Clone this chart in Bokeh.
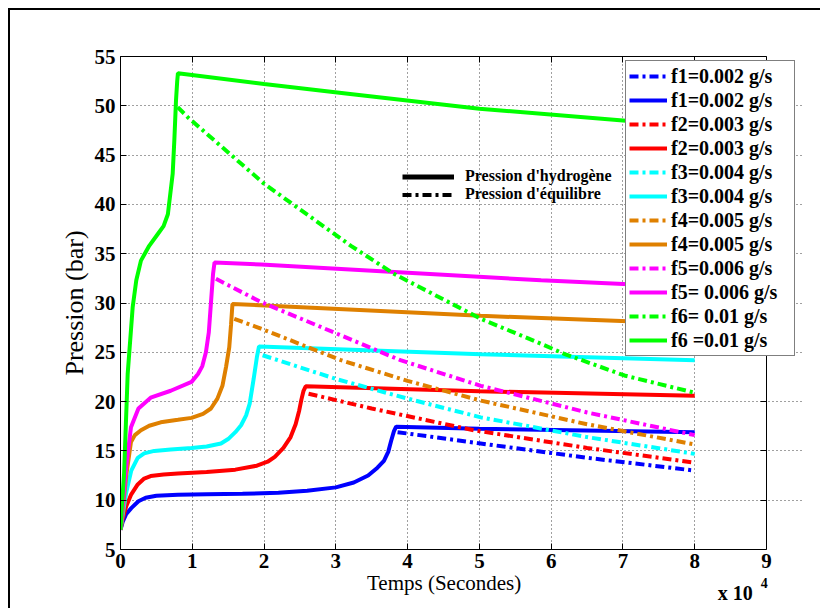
from bokeh.plotting import figure
from bokeh.models import (Legend, LegendItem, LinearAxis, Label, ColumnDataSource,
                          FixedTicker, Range1d)
from bokeh.embed import file_html
from bokeh.resources import INLINE

# ---------------- data (time in units of 1e4 s, pressure in bar) ----------------
x_ticks = [0, 1, 2, 3, 4, 5, 6, 7, 8, 9]
y_ticks = [5, 10, 15, 20, 25, 30, 35, 40, 45, 50, 55]

labels_eq = ["f1=0.002 g/s", "f2=0.003 g/s", "f3=0.004 g/s", "f4=0.005 g/s",
             "f5=0.006 g/s", "f6= 0.01 g/s"]
labels_h = ["f1=0.002 g/s", "f2=0.003 g/s", "f3=0.004 g/s", "f4=0.005 g/s",
            "f5= 0.006 g/s", "f6 =0.01 g/s"]
colors = ["#0000FF", "#FF0000", "#00FFFF", "#DF8000", "#FF00FF", "#00FF00"]

# hydrogen pressure (solid)
t_f1_h = [0, 0.03, 0.08, 0.15, 0.25, 0.35, 0.5, 0.8, 1.2, 1.7, 2.2, 2.6, 3.0, 3.25, 3.45,
          3.58, 3.67, 3.73, 3.77, 3.81, 3.84, 5.0, 8.0]
p_f1_h = [7.0, 7.8, 8.6, 9.2, 9.9, 10.25, 10.45, 10.55, 10.6, 10.65, 10.75, 10.95, 11.3,
          11.8, 12.5, 13.3, 14.0, 14.9, 16.0, 17.0, 17.45, 17.25, 16.9]
t_f2_h = [0, 0.03, 0.08, 0.15, 0.24, 0.33, 0.42, 0.6, 0.8, 1.2, 1.6, 1.9, 2.05, 2.15, 2.27,
          2.37, 2.44, 2.49, 2.52, 2.55, 2.58, 5.0, 8.0]
p_f2_h = [7.0, 8.1, 9.4, 10.6, 11.6, 12.2, 12.45, 12.6, 12.7, 12.85, 13.1, 13.5, 13.9,
          14.4, 15.3, 16.4, 17.7, 19.1, 20.2, 21.1, 21.55, 21.05, 20.6]
t_f3_h = [0, 0.03, 0.08, 0.15, 0.24, 0.33, 0.47, 0.7, 0.99, 1.2, 1.4, 1.5, 1.6, 1.68, 1.75,
          1.8, 1.855, 1.9, 1.93, 5.02, 8.0]
p_f3_h = [7.0, 8.5, 10.8, 13.0, 14.3, 14.75, 15.0, 15.15, 15.3, 15.45, 15.75, 16.2, 16.9,
          17.6, 18.6, 19.8, 22.3, 24.5, 25.6, 24.8, 24.2]
t_f4_h = [0, 0.03, 0.08, 0.146, 0.2, 0.285, 0.4, 0.56, 0.8, 0.99, 1.15, 1.26, 1.35, 1.42,
          1.47, 1.515, 1.54, 1.56, 5.02, 8.0]
p_f4_h = [7.0, 9.0, 12.5, 15.9, 16.6, 17.1, 17.55, 17.9, 18.15, 18.35, 18.75, 19.3, 20.3,
          21.6, 23.5, 25.5, 27.8, 29.9, 28.7, 27.9]
t_f5_h = [0, 0.03, 0.08, 0.146, 0.25, 0.42, 0.7, 0.99, 1.08, 1.14, 1.19, 1.23, 1.26, 1.29,
          1.31, 1.96, 5.86, 8.0]
p_f5_h = [7.0, 9.5, 13.5, 17.4, 19.3, 20.4, 21.1, 22.0, 22.8, 23.6, 25.0, 27.0, 30.0, 33.0,
          34.1, 33.9, 32.3, 31.6]
t_f6_h = [0, 0.02, 0.05, 0.1, 0.17, 0.22, 0.285, 0.4, 0.52, 0.6, 0.66, 0.727, 0.75, 0.773,
          0.79, 0.80, 2.0, 3.2, 5.0, 7.0, 8.0]
p_f6_h = [7.0, 9.5, 12.7, 22.8, 29.6, 32.3, 34.3, 35.8, 37.0, 37.8, 39.0, 43.1, 46.5, 50.5,
          52.5, 53.3, 52.2, 51.2, 49.7, 48.5, 47.9]

# equilibrium pressure (dash-dot)
t_f1_eq = [3.86, 4.97, 6.5, 8.0]
p_f1_eq = [16.9, 15.8, 14.3, 13.0]
t_f2_eq = [2.62, 3.5, 4.92, 6.5, 8.0]
p_f2_eq = [20.8, 19.3, 17.1, 15.3, 13.8]
t_f3_eq = [1.98, 3.0, 4.0, 5.02, 6.5, 8.0]
p_f3_eq = [24.7, 22.3, 20.3, 18.4, 16.4, 14.7]
t_f4_eq = [1.585, 1.957, 3.07, 4.0, 5.02, 6.5, 8.0]
p_f4_eq = [28.4, 27.4, 24.2, 22.1, 20.1, 17.7, 15.65]
t_f5_eq = [1.33, 1.957, 3.9, 5.02, 6.5, 8.0]
p_f5_eq = [32.45, 30.1, 24.2, 21.6, 18.9, 16.6]
t_f6_eq = [0.797, 0.936, 2.0, 3.21, 3.81, 5.02, 5.86, 6.18, 7.02, 8.0]
p_f6_eq = [49.86, 48.85, 42.1, 35.8, 32.96, 28.4, 25.86, 24.85, 22.65, 20.9]

t_h = [t_f1_h, t_f2_h, t_f3_h, t_f4_h, t_f5_h, t_f6_h]
p_h = [p_f1_h, p_f2_h, p_f3_h, p_f4_h, p_f5_h, p_f6_h]
t_eq = [t_f1_eq, t_f2_eq, t_f3_eq, t_f4_eq, t_f5_eq, t_f6_eq]
p_eq = [p_f1_eq, p_f2_eq, p_f3_eq, p_f4_eq, p_f5_eq, p_f6_eq]

# ---------------- layout constants ----------------
SERIF = "Liberation Serif"
DASHDOT = "9 4 3 4"
W, H = 812, 600
BL, BR, BT, BB = 110, 18, 46, 61          # borders around the frame (px)
BOX_PX = 646                               # pixel width of the 0..9 axis box
X_END = x_ticks[-1] * (W - BL - BR) / BOX_PX   # frame extends past 9 so the legend can overhang
NBSP = "\u00a0"

p = figure(width=W, height=H, output_backend="svg", toolbar_location=None,
           x_range=Range1d(0, X_END), y_range=Range1d(y_ticks[0], y_ticks[-1]),
           min_border_left=BL, min_border_right=BR, min_border_top=BT,
           min_border_bottom=BB, background_fill_color="white",
           border_fill_color="white")
p.styles = {"margin-left": "8px", "margin-top": "8px",
            "border-top": "2px solid black", "border-left": "2px solid black"}
p.outline_line_color = None

for ax in (p.xaxis[0], p.yaxis[0]):
    ax.major_tick_in = 6
    ax.major_tick_out = 0
    ax.minor_tick_line_color = None
    ax.axis_line_color = "black"
    ax.major_tick_line_color = "black"
    ax.major_label_text_font = SERIF
    ax.major_label_text_font_style = "bold"
    ax.major_label_text_font_size = "21px"
    ax.major_label_text_color = "black"
    ax.axis_label_text_font = SERIF
    ax.axis_label_text_font_style = "normal"
    ax.axis_label_text_color = "black"
p.xaxis.ticker = FixedTicker(ticks=x_ticks)
p.yaxis.ticker = FixedTicker(ticks=y_ticks)
p.xaxis.bounds = (x_ticks[0], x_ticks[-1])
# trailing no-break spaces re-centre the label under the 0..9 box
p.xaxis.axis_label = "Temps (Secondes)" + NBSP * 7
p.yaxis.axis_label = "Pression (bar)"
p.xaxis.axis_label_text_font_size = "21px"
p.yaxis.axis_label_text_font_size = "26px"
p.xaxis.axis_label_standoff = 0
p.yaxis.axis_label_standoff = 3
p.xaxis.major_label_standoff = 4

top_ax = LinearAxis(ticker=FixedTicker(ticks=x_ticks), bounds=(x_ticks[0], x_ticks[-1]),
                    major_tick_in=6, major_tick_out=0, minor_tick_line_color=None,
                    major_label_text_font_size="0px", axis_line_color="black",
                    major_label_standoff=0)
p.add_layout(top_ax, "above")
right_ax = LinearAxis(ticker=FixedTicker(ticks=y_ticks), fixed_location=x_ticks[-1],
                      major_tick_in=6, major_tick_out=0, minor_tick_line_color=None,
                      major_label_text_font_size="0px", axis_line_color="black",
                      major_label_standoff=0)
p.add_layout(right_ax, "right")

p.grid.grid_line_color = "black"
p.grid.grid_line_alpha = 0.75
p.grid.grid_line_dash = "1 3"
p.grid.grid_line_width = 1
p.xgrid.ticker = FixedTicker(ticks=x_ticks[:-1])
p.ygrid.ticker = FixedTicker(ticks=y_ticks)
p.ygrid.bounds = (x_ticks[0], x_ticks[-1])

items = []
for i in range(6):
    r_eq = p.line(t_eq[i], p_eq[i], line_color=colors[i], line_width=4, line_dash=DASHDOT)
    r_h = p.line(t_h[i], p_h[i], line_color=colors[i], line_width=4)
    items.append(LegendItem(label=labels_eq[i], renderers=[r_eq]))
    items.append(LegendItem(label=labels_h[i], renderers=[r_h]))

leg = Legend(items=items, location=(505, 193), orientation="vertical", padding=3,
             spacing=0, label_height=24, glyph_height=24, glyph_width=38,
             label_width=120, label_standoff=4, margin=0, border_line_color="black",
             border_line_width=1, background_fill_color="white",
             background_fill_alpha=1.0, label_text_font=SERIF,
             label_text_font_style="bold", label_text_font_size="20px",
             label_text_color="black")
p.add_layout(leg)

# black key for line styles
nan_src = ColumnDataSource(dict(x=[float("nan")], y=[float("nan")]))
k1 = p.line("x", "y", source=nan_src, line_color="black", line_width=5)
k2 = p.line("x", "y", source=nan_src, line_color="black", line_width=4, line_dash=DASHDOT)
leg2 = Legend(items=[LegendItem(label="Pression d'hydrogène", renderers=[k1]),
                     LegendItem(label="Pression d'équilibre", renderers=[k2])],
              location=(282, 346), orientation="vertical", padding=0, spacing=0,
              label_height=17, glyph_height=17, glyph_width=52, label_standoff=11,
              margin=0, border_line_alpha=0, background_fill_alpha=0,
              label_text_font=SERIF, label_text_font_style="bold",
              label_text_font_size="16px", label_text_color="black")
p.add_layout(leg2)

# exponent note under the x axis; hosted in the (spacious) left panel so that it is
# neither clipped to the frame nor pushes the frame around
p.add_layout(Label(x=8.32, y=0.6, text="x 10",
                   text_font=SERIF, text_font_style="bold", text_font_size="20px",
                   text_color="black", text_baseline="alphabetic"), "left")
p.add_layout(Label(x=8.92, y=1.65, text="4",
                   text_font=SERIF, text_font_style="bold", text_font_size="14px",
                   text_color="black", text_baseline="alphabetic"), "left")

open("out.html", "w").write(file_html(p, INLINE))
